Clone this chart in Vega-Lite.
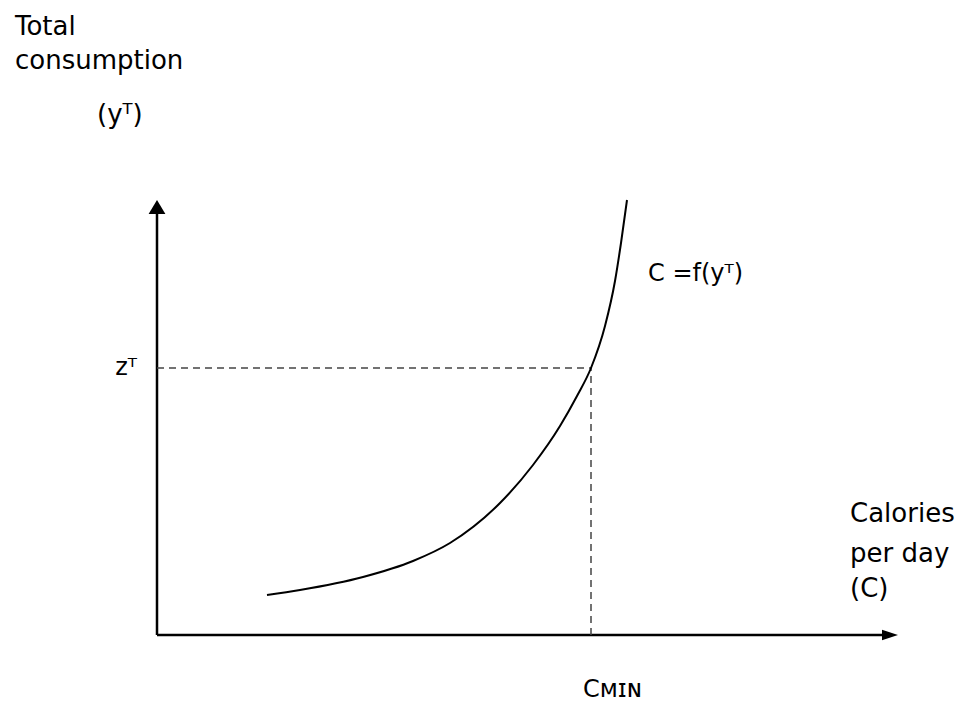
{
  "$schema": "https://vega.github.io/schema/vega-lite/v6.json",
  "width": 964,
  "height": 702,
  "autosize": {"type": "fit", "contains": "padding"},
  "padding": 0,
  "background": "white",
  "config": {"view": {"stroke": null}},
  "layer": [
    {
      "data": {"values": [
        {"x": 0, "y": 0, "x2": 0, "y2": 424},
        {"x": 0, "y": 0, "x2": 728, "y2": 0}
      ]},
      "mark": {"type": "rule", "color": "black", "strokeWidth": 2.5},
      "encoding": {
        "x": {"field": "x", "type": "quantitative", "scale": {"domain": [-157, 807], "nice": false, "zero": false}, "axis": null},
        "y": {"field": "y", "type": "quantitative", "scale": {"domain": [-67, 635], "nice": false, "zero": false}, "axis": null},
        "x2": {"field": "x2"},
        "y2": {"field": "y2"}
      }
    },
    {
      "data": {"values": [
        {"x": 0, "y": 267, "x2": 434, "y2": 267},
        {"x": 434, "y": 0, "x2": 434, "y2": 267}
      ]},
      "mark": {"type": "rule", "color": "#444444", "strokeWidth": 1.5, "strokeDash": [7, 5]},
      "encoding": {
        "x": {"field": "x", "type": "quantitative"},
        "y": {"field": "y", "type": "quantitative"},
        "x2": {"field": "x2"},
        "y2": {"field": "y2"}
      }
    },
    {
      "data": {"values": [
        {"x": 110, "y": 40},
        {"x": 143, "y": 45},
        {"x": 206, "y": 58},
        {"x": 256, "y": 74},
        {"x": 293, "y": 92},
        {"x": 343, "y": 132},
        {"x": 376, "y": 170},
        {"x": 403, "y": 209},
        {"x": 420, "y": 239},
        {"x": 434, "y": 267},
        {"x": 448, "y": 309},
        {"x": 458, "y": 354},
        {"x": 464, "y": 392},
        {"x": 470, "y": 435}
      ]},
      "mark": {"type": "line", "color": "black", "strokeWidth": 2, "interpolate": "monotone"},
      "encoding": {
        "x": {"field": "x", "type": "quantitative"},
        "y": {"field": "y", "type": "quantitative"}
      }
    },
    {
      "data": {"values": [{"x": 0, "y": 428}]},
      "mark": {"type": "point", "shape": "M 0 -1 L 1.2 1 L -1.2 1 Z", "size": 196, "filled": true, "color": "black", "opacity": 1},
      "encoding": {
        "x": {"field": "x", "type": "quantitative"},
        "y": {"field": "y", "type": "quantitative"}
      }
    },
    {
      "data": {"values": [{"x": 733, "y": 0}]},
      "mark": {"type": "point", "shape": "M 1 0 L -1 -0.65 L -1 0.65 Z", "size": 256, "filled": true, "color": "black", "opacity": 1},
      "encoding": {
        "x": {"field": "x", "type": "quantitative"},
        "y": {"field": "y", "type": "quantitative"}
      }
    },
    {
      "data": {"values": [
        {"x": -142, "y": 600, "label": "Total"},
        {"x": -142, "y": 566, "label": "consumption"},
        {"x": -60, "y": 512, "label": "(yᵀ)"},
        {"x": 693, "y": 113, "label": "Calories"},
        {"x": 693, "y": 73, "label": "per day"},
        {"x": 693, "y": 38, "label": "(C)"}
      ]},
      "mark": {"type": "text", "align": "left", "baseline": "alphabetic", "font": "DejaVu Sans", "fontSize": 26, "color": "black"},
      "encoding": {
        "x": {"field": "x", "type": "quantitative"},
        "y": {"field": "y", "type": "quantitative"},
        "text": {"field": "label"}
      }
    },
    {
      "data": {"values": [
        {"x": 491, "y": 354, "label": "C =f(yᵀ)"},
        {"x": 426, "y": -62, "label": "Cᴍɪɴ"}
      ]},
      "mark": {"type": "text", "align": "left", "baseline": "alphabetic", "font": "DejaVu Sans", "fontSize": 24, "color": "black"},
      "encoding": {
        "x": {"field": "x", "type": "quantitative"},
        "y": {"field": "y", "type": "quantitative"},
        "text": {"field": "label"}
      }
    },
    {
      "data": {"values": [
        {"x": -20, "y": 260, "label": "zᵀ"}
      ]},
      "mark": {"type": "text", "align": "right", "baseline": "alphabetic", "font": "DejaVu Sans", "fontSize": 24, "color": "black"},
      "encoding": {
        "x": {"field": "x", "type": "quantitative"},
        "y": {"field": "y", "type": "quantitative"},
        "text": {"field": "label"}
      }
    }
  ]
}
